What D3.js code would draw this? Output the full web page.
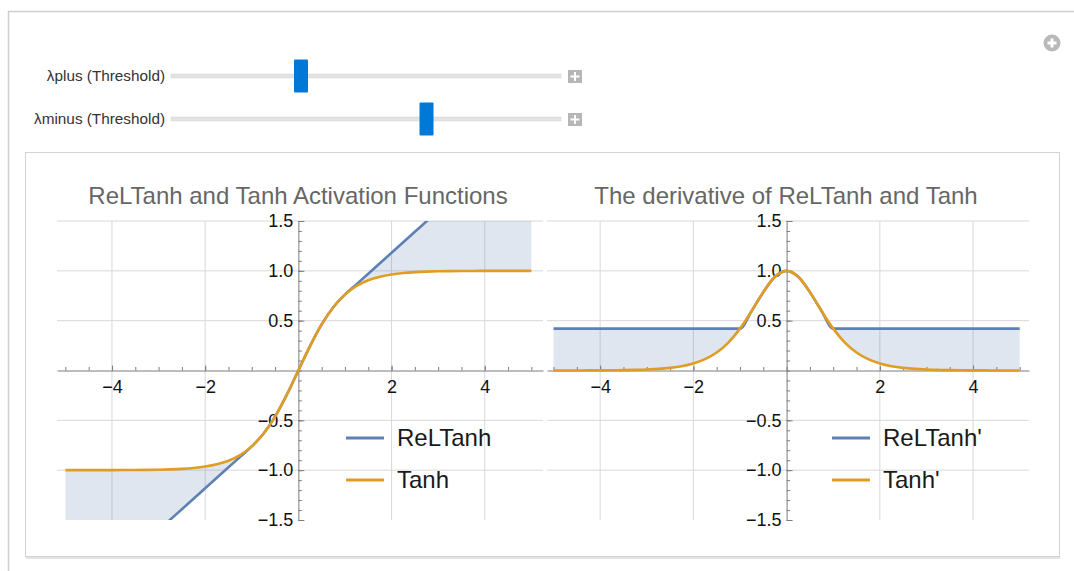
<!DOCTYPE html>
<html>
<head>
<meta charset="utf-8">
<style>
body { margin: 0; background: #fff; }
svg { display: block; font-family: "Liberation Sans", Arial, sans-serif; }
.grid line { stroke: #d8d8d8; stroke-width: 1; }
.axis path, .axis line { stroke: #7d7d7d; stroke-width: 1; }
.axis text { fill: #111; font-size: 18px; font-family: "Liberation Sans", Arial, sans-serif; }
.title { fill: #666; font-size: 24px; text-anchor: middle; }
.legend text { fill: #1a1a1a; font-size: 24px; }
.slabel { fill: #333; font-size: 15.3px; text-anchor: end; }
</style>
</head>
<body>

<svg id="chart" width="1074" height="571"></svg>

<script src="https://d3js.org/d3.v7.min.js"></script>
<script>

// sample points
var xs = [-5, -4.75, -4.5, -4.25, -4, -3.75, -3.5, -3.25, -3, -2.75, -2.5, -2.25, -2, -1.75, -1.5, -1.25, -1, -0.75, -0.5, -0.25,
          0, 0.25, 0.5, 0.75, 1, 1.25, 1.5, 1.75, 2, 2.25, 2.5, 2.75, 3, 3.25, 3.5, 3.75, 4, 4.25, 4.5, 4.75, 5];

var tanhY = [-0.9999, -0.9999, -0.9998, -0.9996, -0.9993, -0.9989, -0.9982, -0.9970, -0.9951, -0.9919, -0.9866, -0.9780, -0.9640, -0.9414, -0.9051, -0.8483, -0.7616, -0.6351, -0.4621, -0.2449,
             0, 0.2449, 0.4621, 0.6351, 0.7616, 0.8483, 0.9051, 0.9414, 0.9640, 0.9780, 0.9866, 0.9919, 0.9951, 0.9970, 0.9982, 0.9989, 0.9993, 0.9996, 0.9998, 0.9999, 0.9999];

var relTanhY = [-2.4416, -2.3366, -2.2316, -2.1266, -2.0216, -1.9166, -1.8116, -1.7066, -1.6016, -1.4966, -1.3916, -1.2866, -1.1816, -1.0766, -0.9716, -0.8666, -0.7616, -0.6351, -0.4621, -0.2449,
                0, 0.2449, 0.4621, 0.6351, 0.7616, 0.8666, 0.9716, 1.0766, 1.1816, 1.2866, 1.3916, 1.4966, 1.6016, 1.7066, 1.8116, 1.9166, 2.0216, 2.1266, 2.2316, 2.3366, 2.4416];

var tanhD = [0.0002, 0.0003, 0.0005, 0.0008, 0.0013, 0.0022, 0.0036, 0.0060, 0.0099, 0.0161, 0.0266, 0.0435, 0.0707, 0.1138, 0.1807, 0.2804, 0.4200, 0.5966, 0.7864, 0.9400,
             1, 0.9400, 0.7864, 0.5966, 0.4200, 0.2804, 0.1807, 0.1138, 0.0707, 0.0435, 0.0266, 0.0161, 0.0099, 0.0060, 0.0036, 0.0022, 0.0013, 0.0008, 0.0005, 0.0003, 0.0002];

var relTanhD = [0.42, 0.42, 0.42, 0.42, 0.42, 0.42, 0.42, 0.42, 0.42, 0.42, 0.42, 0.42, 0.42, 0.42, 0.42, 0.42, 0.42, 0.5966, 0.7864, 0.9400,
                1, 0.9400, 0.7864, 0.5966, 0.42, 0.42, 0.42, 0.42, 0.42, 0.42, 0.42, 0.42, 0.42, 0.42, 0.42, 0.42, 0.42, 0.42, 0.42, 0.42, 0.42];

var lambdaPlus = 1;
var lambdaMinus = -1;

var xTicks = [-4, -2, 2, 4];
var xTickLabels = ["\u22124", "\u22122", "2", "4"];
var yTicks = [-1.5, -1, -0.5, 0.5, 1, 1.5];
var yTickLabels = ["\u22121.5", "\u22121.0", "\u22120.5", "0.5", "1.0", "1.5"];
var yGrid = [-1, -0.5, 0.5, 1, 1.5];

var titles = ["ReLTanh and Tanh Activation Functions", "The derivative of ReLTanh and Tanh"];
var legendNames = [["ReLTanh", "Tanh"], ["ReLTanh'", "Tanh'"]];

var blue = "#5e81b5", orange = "#e19c24";

var svg = d3.select("#chart");

// outer notebook frame
svg.append("path")
    .attr("d", "M8.5,571 V11.5 H1074")
    .attr("fill", "none")
    .attr("stroke", "#cfcfcf")
    .attr("stroke-width", 1.5);

// plus button top right
var pb = svg.append("g").attr("transform", "translate(1052,43)");
pb.append("circle").attr("r", 8.5).attr("fill", "#b9b9b9");
pb.append("path").attr("d", "M-4.5,0 H4.5 M0,-4.5 V4.5").attr("stroke", "#fff").attr("stroke-width", 3);

// sliders
var sliders = [
    {label: "\u03BBplus (Threshold)", value: lambdaPlus, domain: [0, 3], y: 76},
    {label: "\u03BBminus (Threshold)", value: lambdaMinus, domain: [-2.9, 0], y: 119}
];
sliders.forEach(function(s) {
    var sx = d3.scaleLinear().domain(s.domain).range([171, 561]);
    var g = svg.append("g");
    g.append("text").attr("class", "slabel").attr("x", 165).attr("y", s.y + 5).text(s.label);
    g.append("rect").attr("x", 171).attr("y", s.y - 2).attr("width", 390).attr("height", 4)
        .attr("fill", "#e3e3e3").attr("stroke", "#d4d4d4").attr("stroke-width", 0.5);
    g.append("rect").attr("x", sx(s.value) - 7).attr("y", s.y - 16.5).attr("width", 14).attr("height", 33)
        .attr("rx", 1).attr("fill", "#0078d7");
    g.append("rect").attr("x", 568).attr("y", s.y - 6).attr("width", 14).attr("height", 13).attr("fill", "#b6b6b6");
    g.append("path").attr("d", "M" + 570.5 + "," + (s.y + 0.5) + " H579.5 M575," + (s.y - 4) + " V" + (s.y + 5))
        .attr("stroke", "#fff").attr("stroke-width", 2);
});

// plot frame
svg.append("rect")
    .attr("x", 25.5).attr("y", 152.5).attr("width", 1034).attr("height", 404)
    .attr("fill", "#fff").attr("stroke", "#d2d2d2").attr("stroke-width", 1);
svg.append("line").attr("x1", 26).attr("x2", 1060).attr("y1", 558).attr("y2", 558)
    .attr("stroke", "#e4e4e4").attr("stroke-width", 2);

var yScale = d3.scaleLinear().domain([-1.5, 1.5]).range([520, 221]);

var panels = [
    {domain: [-5.18, 5.25], range: [57, 543], upper: relTanhY, lower: tanhY, lines: [relTanhY, tanhY], legendX: 346},
    {domain: [-5.14, 5.2], range: [547, 1029], upper: relTanhD, lower: tanhD, lines: [relTanhD, tanhD], legendX: 832}
];

panels.forEach(function(p, pi) {
    var x = d3.scaleLinear().domain(p.domain).range(p.range);
    var g = svg.append("g");

    var clipId = "clip" + pi;
    svg.append("clipPath").attr("id", clipId)
        .append("rect")
        .attr("x", p.range[0]).attr("y", yScale(1.5))
        .attr("width", p.range[1] - p.range[0]).attr("height", yScale(-1.5) - yScale(1.5));

    // grid
    var grid = g.append("g").attr("class", "grid");
    grid.selectAll(".gv").data(xTicks).enter().append("line")
        .attr("x1", function(d) { return x(d); }).attr("x2", function(d) { return x(d); })
        .attr("y1", yScale(1.5)).attr("y2", yScale(-1.5));
    grid.selectAll(".gh").data(yGrid).enter().append("line")
        .attr("x1", p.range[0]).attr("x2", p.range[1])
        .attr("y1", function(d) { return yScale(d); }).attr("y2", function(d) { return yScale(d); });

    // filling between curves outside the thresholds
    var area = d3.area()
        .defined(function(d, i) { return xs[i] <= lambdaMinus || xs[i] >= lambdaPlus; })
        .x(function(d, i) { return x(xs[i]); })
        .y0(function(d, i) { return yScale(p.lower[i]); })
        .y1(function(d, i) { return yScale(p.upper[i]); })
        .curve(d3.curveMonotoneX);
    g.append("path")
        .datum(xs)
        .attr("clip-path", "url(#" + clipId + ")")
        .attr("d", area)
        .attr("fill", blue)
        .attr("fill-opacity", 0.2);

    // axes
    var xAxis = g.append("g").attr("class", "axis")
        .attr("transform", "translate(0," + yScale(0) + ")");
    xAxis.call(d3.axisBottom(x).tickValues(d3.range(-5, 5.01, 0.5)).tickSizeInner(-3.5).tickSizeOuter(0).tickFormat(""));
    xAxis.append("g").call(d3.axisBottom(x).tickValues(xTicks).tickSizeInner(-5).tickSizeOuter(0).tickPadding(10)
        .tickFormat(function(d, i) { return xTickLabels[i]; }))
        .call(function(a) { a.select(".domain").remove(); });

    var yAxis = g.append("g").attr("class", "axis")
        .attr("transform", "translate(" + x(0) + ",0)");
    yAxis.call(d3.axisLeft(yScale).tickValues(d3.range(-1.5, 1.51, 0.1)).tickSizeInner(-3.5).tickSizeOuter(0).tickFormat(""));
    yAxis.append("g").call(d3.axisLeft(yScale).tickValues(yTicks).tickSizeInner(-6).tickSizeOuter(0).tickPadding(5)
        .tickFormat(function(d, i) { return yTickLabels[i]; }))
        .call(function(a) { a.select(".domain").remove(); });

    // curves
    var colors = [blue, orange];
    p.lines.forEach(function(vals, li) {
        var line = d3.line()
            .x(function(d, i) { return x(xs[i]); })
            .y(function(d) { return yScale(d); })
            .curve(d3.curveMonotoneX);
        g.append("path")
            .datum(vals)
            .attr("clip-path", "url(#" + clipId + ")")
            .attr("d", line)
            .attr("fill", "none")
            .attr("stroke", colors[li])
            .attr("stroke-width", 2.6);
    });

    // title
    g.append("text").attr("class", "title")
        .attr("x", (p.range[0] + p.range[1]) / 2 - 2).attr("y", 204)
        .text(titles[pi]);

    // legend
    var lg = g.append("g").attr("class", "legend");
    legendNames[pi].forEach(function(name, li) {
        var ly = 438 + li * 42;
        lg.append("line").attr("x1", p.legendX).attr("x2", p.legendX + 38)
            .attr("y1", ly).attr("y2", ly)
            .attr("stroke", colors[li]).attr("stroke-width", 3);
        lg.append("text").attr("x", p.legendX + 51).attr("y", ly + 8).text(name);
    });
});

</script>
</body>
</html>
